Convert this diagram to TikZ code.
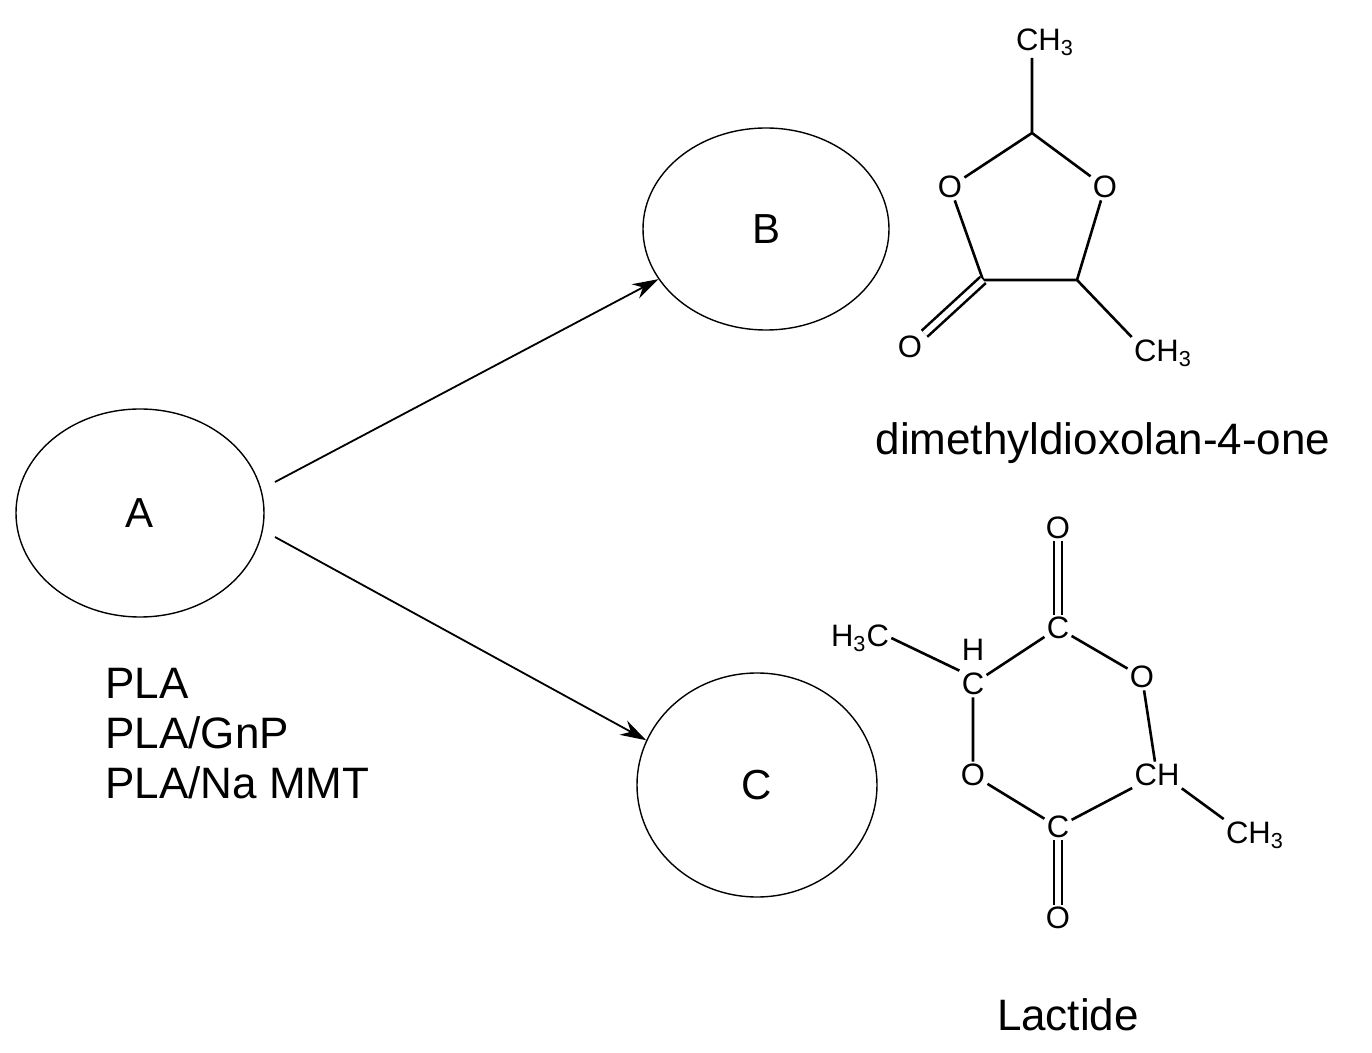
\documentclass[tikz,border=0pt]{standalone}
\usepackage{fontspec}
\setmainfont{Liberation Sans}
\usetikzlibrary{arrows.meta, positioning, shapes.geometric}

\begin{document}
\begin{tikzpicture}[
    x=0.5pt, y=-0.5pt,
    stage/.style = {ellipse, draw, line width=0.7pt, inner sep=0pt, font=\fontsize{21}{24}\selectfont},
    big/.style = {font=\fontsize{22}{25}\selectfont},
    atom/.style = {inner sep=1pt, font=\fontsize{15.5}{17}\selectfont},
    bond/.style = {line width=1.3pt},
    dbl/.style = {bond, double, double distance=2.8pt},
    route/.style = {-{Stealth[length=13pt, width=8pt]}, line width=0.9pt},
]
    \useasboundingbox (0,0) rectangle (1372,1053);
    % Stufen
    \node[stage, minimum width=124pt, minimum height=104pt] (A) at (140,513) {A};
    \node[stage, minimum width=123pt, minimum height=101pt] (B) at (766,229) {B};
    \node[stage, minimum width=120pt, minimum height=112pt] (C) at (757,785) {C};
    \coordinate (a1) at (275,482);
    \coordinate (a2) at (275,537);
    \draw[route] (a1) -- (B.205);
    \draw[route] (a2) -- (C.158);
    \node[big, align=left, anchor=north west, inner sep=0pt] (samples) at (105,668)
        {PLA\\[0pt] PLA/GnP\\[0pt] PLA/Na MMT};
    % Dimethyldioxolanon
    \node[atom] (m1) at (1045,42) {CH\textsubscript{3}};
    \coordinate (c2) at (1032,133);
    \node[atom] (o1) at (950,187) {O};
    \node[atom] (o3) at (1105,187) {O};
    \coordinate (c4) at (983,280);
    \coordinate (c5) at (1077,280);
    \node[atom] (o4) at (910,347) {O};
    \node[atom] (m5) at (1163,353) {CH\textsubscript{3}};
    \draw[bond] (m1.south -| c2) -- (c2) -- (o1) (c2) -- (o3);
    \draw[bond] (o1) -- (c4) -- (c5) -- (o3) (c5) -- (m5.north west);
    \draw[dbl] (c4) -- (o4);
    \node[big] (dioxolane) at (1103,443) {dimethyldioxolan-4-one};
    % Lactid
    \node[atom] (lo1) at (1058,528) {O};
    \node[atom] (lc1) at (1058,628) {C};
    \node[atom] (lc2) at (973,684) {C};
    \node[atom, inner sep=0pt] (lh2) at (973,650) {H};
    \node[atom] (lm2) at (860,638) {H\textsubscript{3}C};
    \node[atom] (lo3) at (1142,677) {O};
    \node[atom] (lo4) at (973,775) {O};
    \node[atom] (lc5) at (1157,775) {CH};
    \node[atom] (lc6) at (1058,827) {C};
    \node[atom] (lo6) at (1058,918) {O};
    \node[atom] (lm5) at (1255,835) {CH\textsubscript{3}};
    \draw[bond] (lm2.east) -- (lc2.north west) (lc2) -- (lc1) -- (lo3) -- (lc5) -- (lc6) -- (lo4) -- (lc2);
    \draw[bond] (lc5.south east) -- (lm5.north west);
    \draw[dbl] (lc1) -- (lo1);
    \draw[dbl] (lc6) -- (lo6);
    \node[big] (lactide) at (1068,1015) {Lactide};
\end{tikzpicture}
\end{document}
